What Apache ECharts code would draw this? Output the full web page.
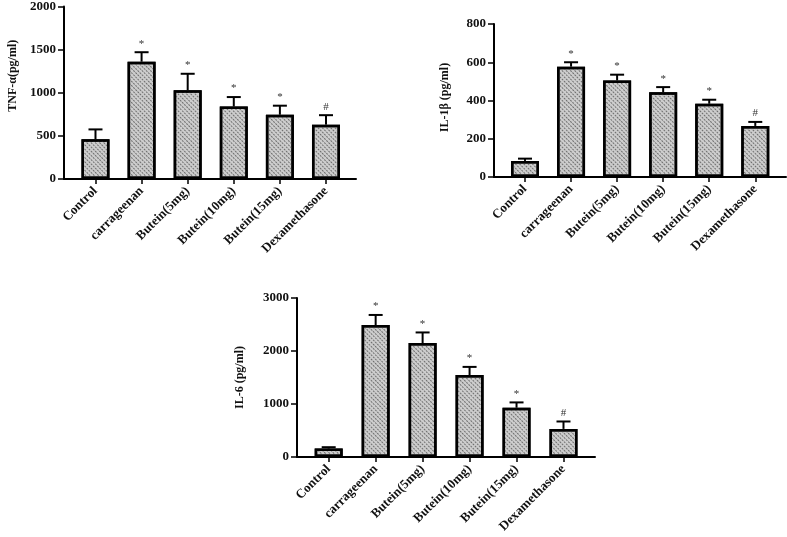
<!DOCTYPE html>
<html>
<head>
<meta charset="UTF-8">
<title>Cytokines</title>
<script src="https://cdn.jsdelivr.net/npm/echarts@6/dist/echarts.min.js"></script>
<style>
  html, body { margin: 0; padding: 0; background: #fff; }
  #chart { width: 787px; height: 537px; }
</style>
</head>
<body>
<div id="chart"></div>
<script>
// data
const categories = ['Control', 'carrageenan', 'Butein(5mg)', 'Butein(10mg)', 'Butein(15mg)', 'Dexamethasone'];
const marks = ['', '*', '*', '*', '*', '#'];

const tnfMean = [460, 1360, 1030, 840, 745, 630];
const tnfSd = [115, 110, 190, 110, 105, 110];

const il1bMean = [84, 577, 505, 443, 383, 267];
const il1bSd = [12, 23, 30, 27, 21, 21];

const il6Mean = [160, 2490, 2150, 1545, 930, 530];
const il6Sd = [25, 190, 200, 155, 100, 140];

const panels = [
  { name: 'TNF-α(pg/ml)', mean: tnfMean, sd: tnfSd, max: 2000, step: 500,
    grid: { left: 64, top: 6, width: 292, height: 173 }, xr: [-0.683, 5.651], gap: 45, namePad: 34 },
  { name: 'IL-1β (pg/ml)', mean: il1bMean, sd: il1bSd, max: 800, step: 200,
    grid: { left: 494, top: 24, width: 292, height: 153 }, xr: [-0.673, 5.667], gap: 43, namePad: 6 },
  { name: 'IL-6 (pg/ml)', mean: il6Mean, sd: il6Sd, max: 3000, step: 1000,
    grid: { left: 297, top: 298, width: 298, height: 159 }, xr: [-0.675, 5.671], gap: 51, namePad: 0 }
];

const font = 'Liberation Serif';
const idx = categories.map((c, i) => i);

const option = {
  backgroundColor: '#fff',
  animation: false,
  grid: [], xAxis: [], yAxis: [], series: []
};

panels.forEach((p, k) => {
  option.grid.push(p.grid);
  option.xAxis.push({
    type: 'value', gridIndex: k, min: p.xr[0], max: p.xr[1],
    splitLine: { show: false },
    axisLine: { onZero: false, lineStyle: { color: '#000', width: 2 } },
    axisTick: { customValues: idx, length: 5, lineStyle: { color: '#000', width: 1.5 } },
    axisLabel: {
      customValues: idx, rotate: 45, margin: 10,
      formatter: v => categories[Math.round(v)],
      fontFamily: font, fontWeight: 'bold', fontSize: 13, color: '#111'
    }
  });
  option.yAxis.push({
    type: 'value', gridIndex: k, min: 0, max: p.max, interval: p.step,
    name: p.name, nameLocation: 'middle', nameGap: p.gap,
    nameTextStyle: { fontFamily: font, fontWeight: 'bold', fontSize: 12, color: '#111', padding: [0, 0, 0, p.namePad] },
    splitLine: { show: false },
    axisLine: { show: true, onZero: false, lineStyle: { color: '#000', width: 2 } },
    axisTick: { show: true, length: 6, lineStyle: { color: '#000', width: 1.5 } },
    axisLabel: { margin: 8, formatter: v => String(v), fontFamily: font, fontWeight: 'bold', fontSize: 13, color: '#111' }
  });
  option.series.push({
    type: 'bar', xAxisIndex: k, yAxisIndex: k, barWidth: 28,
    data: p.mean.map((v, i) => [i, v]),
    itemStyle: {
      color: '#cdcdcd', borderColor: '#000', borderWidth: 2.5,
      decal: { symbol: 'rect', symbolSize: 1, dashArrayX: [2, 1], dashArrayY: [1, 2], rotation: Math.PI / 4, color: '#6f6f6f' }
    }
  });
  option.series.push({
    type: 'custom', xAxisIndex: k, yAxisIndex: k, z: 5,
    data: p.mean.map((v, i) => [i, v, p.sd[i]]),
    renderItem: (params, api) => {
      const x = api.value(0), m = api.value(1), s = api.value(2);
      const a = api.coord([x, m]);
      const b = api.coord([x, m + s]);
      return {
        type: 'group',
        children: [
          { type: 'line', shape: { x1: a[0], y1: a[1], x2: b[0], y2: b[1] }, style: { stroke: '#000', lineWidth: 2 } },
          { type: 'line', shape: { x1: b[0] - 7, y1: b[1], x2: b[0] + 7, y2: b[1] }, style: { stroke: '#000', lineWidth: 2 } },
          { type: 'text', style: { text: marks[params.dataIndex], x: b[0], y: b[1] - 3, align: 'center', verticalAlign: 'bottom',
            font: '11px "Liberation Serif"', fill: '#333' } }
        ]
      };
    }
  });
});

const chart = echarts.init(document.getElementById('chart'));
chart.setOption(option);
</script>
</body>
</html>
